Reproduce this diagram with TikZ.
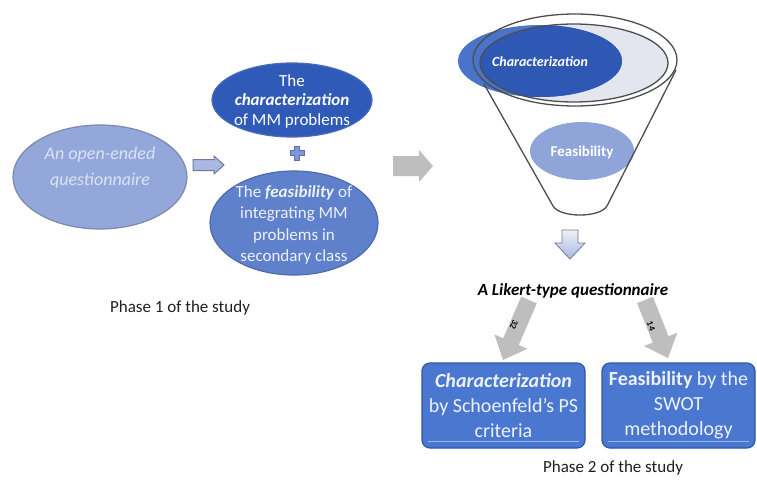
\documentclass[tikz,border=0pt]{standalone}
\usepackage{fontspec}
\setmainfont{Carlito}
\usetikzlibrary{shapes.geometric,calc}

\definecolor{periw}{HTML}{93A7DB}
\definecolor{periwline}{HTML}{7D89A8}
\definecolor{softtext}{HTML}{DCE3F5}
\definecolor{darkblue}{HTML}{2F5AB8}
\definecolor{darkline}{HTML}{4A6CB8}
\definecolor{midblue}{HTML}{5F80CB}
\definecolor{midline}{HTML}{4F6AAE}
\definecolor{paletext}{HTML}{EEF1FA}
\definecolor{plusfill}{HTML}{7F97D3}
\definecolor{plusline}{HTML}{5570B5}
\definecolor{lightarrow}{HTML}{A9B9E2}
\definecolor{lightarrowline}{HTML}{6E7A98}
\definecolor{arrowgrey}{HTML}{BEBEBE}
\definecolor{funnelinner}{HTML}{E3E6EE}
\definecolor{funnelblue}{HTML}{4A74C9}
\definecolor{funneldark}{HTML}{2F58B4}
\definecolor{feasfill}{HTML}{8FA5DA}
\definecolor{funnelline}{HTML}{4D4D4D}
\definecolor{boxblue}{HTML}{4A78D0}
\definecolor{boxline}{HTML}{2F55A6}
\definecolor{boxshine}{HTML}{9DB7EC}
\definecolor{captiontext}{HTML}{1F1F1F}

\tikzset{
  oval/.style={ellipse, inner sep=0pt, line width=1.2pt},
  txt/.style={align=center, inner sep=0pt},
  caption/.style={inner sep=0pt, text=captiontext, font=\fontsize{17}{20}\selectfont},
  greyarrow/.style={fill=arrowgrey},
  boxstyle/.style={rounded corners=8pt, fill=boxblue, draw=boxline, line width=1.2pt,
    inner sep=0pt, align=center, text=paletext, font=\fontsize{20}{25}\selectfont},
}

% block arrow: #1 style, #2 tail centre, #3 tip, #4 half shaft width,
% #5 half head width, #6 head length
\newcommand{\blockarrow}[6]{%
  \coordinate (ba-base) at ($(#3)!#6!(#2)$);
  \path[#1] ($(#2)!#4!90:(#3)$) -- ($(ba-base)!#4!-90:(#2)$)
    -- ($(ba-base)!#5!-90:(#2)$) -- (#3) -- ($(ba-base)!#5!90:(#2)$)
    -- ($(ba-base)!#4!90:(#2)$) -- ($(#2)!#4!-90:(#3)$) -- cycle;
}

\begin{document}
\begin{tikzpicture}[x=1pt,y=-1pt]
\useasboundingbox (0,0) rectangle (757,482);

% ---------- phase 1 ----------
\node[oval, draw=periwline, fill=periw, minimum width=174pt, minimum height=104pt] (open) at (100,177) {};
\node[txt, text=softtext, font=\itshape\fontsize{18}{26}\selectfont] (opentext) at (100,168) {An open-ended\\questionnaire};

\node[oval, draw=darkline, fill=darkblue, minimum width=160pt, minimum height=74pt] (charP) at (292,100) {};
\node[txt, text=white, font=\fontsize{17}{19.5}\selectfont] (charPtext) at (292,101) {The\\\textbf{\textit{characterization}}\\of MM problems};

\node[oval, draw=midline, fill=midblue, minimum width=168pt, minimum height=104pt] (feasP) at (294,223) {};
\node[txt, text=paletext, font=\fontsize{17}{21.5}\selectfont] (feasPtext) at (294,225) {The \textbf{\textit{feasibility}} of\\integrating MM\\problems in\\secondary class};

% plus sign between the two ovals
\draw[fill=plusfill, draw=plusline, line width=0.6pt, shift={(297,153)}]
  (-2.5,-7) -- (2.5,-7) -- (2.5,-2.5) -- (7,-2.5) -- (7,2.5) -- (2.5,2.5) -- (2.5,7)
  -- (-2.5,7) -- (-2.5,2.5) -- (-7,2.5) -- (-7,-2.5) -- (-2.5,-2.5) -- cycle;

\node[caption] (phase1) at (180,308) {Phase 1 of the study};

% arrows of phase 1
\coordinate (a1tail) at (193,165);
\coordinate (a1tip) at (224,165);
\blockarrow{fill=lightarrow, draw=lightarrowline, line width=1pt}{a1tail}{a1tip}{5.5pt}{9pt}{10pt}

\coordinate (a2tail) at (393,166);
\coordinate (a2tip) at (433,166);
\blockarrow{greyarrow}{a2tail}{a2tip}{10pt}{16pt}{14pt}

% ---------- funnel ----------
\fill[funnelinner] (574,63) ellipse [x radius=94pt, y radius=39pt];
\node[oval, fill=funnelblue, minimum width=164pt, minimum height=72pt] (charF) at (540,61) {};
\begin{scope}
  \clip (574,63) ellipse [x radius=94pt, y radius=39pt];
  \fill[funneldark] (540,61) ellipse [x radius=82pt, y radius=36pt];
\end{scope}
\node[txt, text=white, font=\bfseries\itshape\fontsize{14}{16}\selectfont] (charFtext) at (540,62) {Characterization};

\node[oval, fill=feasfill, minimum width=104pt, minimum height=58pt] (feasF) at (582,151) {};
\node[txt, text=white, font=\bfseries\fontsize{15}{17}\selectfont] (feasFtext) at (582,152) {Feasibility};

\draw[funnelline, line width=1.3pt] (575,60) ellipse [x radius=102pt, y radius=46pt];
\draw[funnelline, line width=1.3pt] (574,63) ellipse [x radius=94pt, y radius=39pt];
\draw[funnelline, line width=1.3pt, line join=round]
  (484,84) -- (553,206) .. controls (560,218) and (600,218) .. (607,206) -- (676,70);

\coordinate (a3tail) at (570,230);
\coordinate (a3tip) at (570,259);
\blockarrow{top color=funnelinner!60!white, bottom color=lightarrow, draw=lightarrowline, line width=0.8pt}{a3tail}{a3tip}{8pt}{15pt}{16pt}

% ---------- phase 2 ----------
\node[inner sep=0pt, font=\bfseries\itshape\fontsize{17}{20}\selectfont] (likert) at (573,291) {A Likert-type questionnaire};

\coordinate (a4tail) at (529,300);
\coordinate (a4tip) at (503,360);
\blockarrow{greyarrow}{a4tail}{a4tip}{8.5pt}{18pt}{20pt}
\node[rotate=-113, inner sep=0pt, font=\bfseries\fontsize{9}{9}\selectfont] (n32) at (514,325) {32};

\coordinate (a5tail) at (645,300);
\coordinate (a5tip) at (668,358);
\blockarrow{greyarrow}{a5tail}{a5tip}{8.5pt}{18pt}{20pt}
\node[rotate=-70, inner sep=0pt, font=\bfseries\fontsize{9}{9}\selectfont] (n14) at (651,326) {14};

\node[boxstyle, minimum width=163pt, minimum height=85pt] (boxC) at (503.5,405.5)
  {\textbf{\textit{Characterization}}\\by Schoenfeld's PS\\criteria};
\node[boxstyle, minimum width=153pt, minimum height=85pt] (boxF) at (678.5,405.5)
  {\textbf{Feasibility} by the\\SWOT\\methodology};
\draw[boxshine, line width=0.8pt] ([xshift=7pt,yshift=7pt]boxC.south west) -- ([xshift=-7pt,yshift=7pt]boxC.south east);
\draw[boxshine, line width=0.8pt] ([xshift=7pt,yshift=7pt]boxF.south west) -- ([xshift=-7pt,yshift=7pt]boxF.south east);

\node[caption] (phase2) at (613,468) {Phase 2 of the study};
\end{tikzpicture}
\end{document}
